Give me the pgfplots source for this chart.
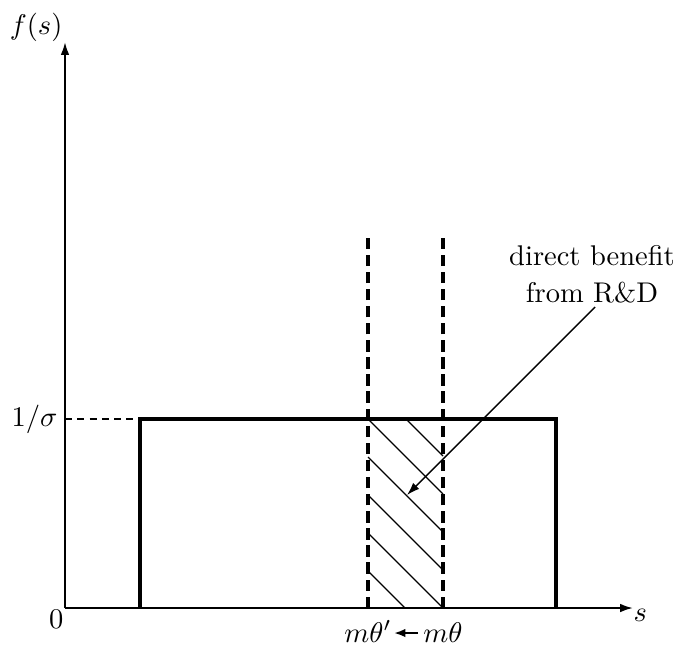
\documentclass[border=0pt]{standalone}
\usepackage{pgfplots}
\pgfplotsset{compat=1.18}
\usetikzlibrary{arrows.meta}

\begin{document}
\begin{tikzpicture}
\begin{axis}[
    axis lines=middle,
    x=0.3509pt, y=0.3509pt,
    xmin=0, xmax=568, ymin=0, ymax=566,
    xtick=\empty, ytick=\empty,
    enlargelimits=false,
    axis line style={line width=0.7pt, -{Latex[length=4.5pt,width=3pt]}},
    clip=false]
  % uniform density f(s)
  \addplot[black, line width=1.2pt] coordinates {(75,0) (75,189) (491,189) (491,0)};
  % level 1/sigma
  \addplot[black, line width=0.5pt, dash pattern=on 2.5pt off 1.8pt] coordinates {(0,189) (75,189)};
  % m theta' and m theta
  \addplot[black, line width=1.2pt, dash pattern=on 4pt off 2pt] coordinates {(303,0) (303,371)};
  \addplot[black, line width=1.2pt, dash pattern=on 4pt off 2pt] coordinates {(378,0) (378,371)};
  % hatching
  \addplot[black, line width=0.45pt] coordinates {(341,189) (378,152)};
  \addplot[black, line width=0.45pt] coordinates {(303,189) (378,114)};
  \addplot[black, line width=0.45pt] coordinates {(303,151) (378,76)};
  \addplot[black, line width=0.45pt] coordinates {(303,113) (378,38)};
  \addplot[black, line width=0.45pt] coordinates {(303,75) (378,0)};
  \addplot[black, line width=0.45pt] coordinates {(303,37) (340,0)};
  % pointer
  \addplot[black, line width=0.5pt, -{Latex[length=4.5pt,width=3pt]}] coordinates {(530,301) (342,113)};
  \addplot[black, line width=0.7pt, -{Latex[length=4pt,width=3pt]}] coordinates {(353,-25) (329,-25)};

  \node[anchor=base, inner sep=0pt] at (axis cs:527,343) {direct benefit};
  \node[anchor=base, inner sep=0pt] at (axis cs:527,306) {from R\&D};
  \node[anchor=south east, inner sep=0pt] at (axis cs:-2,566) {$f(s)$};
  \node[anchor=north west, inner sep=0pt] at (axis cs:568,-1) {$s$};
  \node[anchor=north east, inner sep=0pt] at (axis cs:-1,-2) {$0$};
  \node[anchor=east, inner sep=0pt] at (axis cs:-7,189) {$1/\sigma$};
  \node[anchor=base, inner sep=0pt] at (axis cs:303,-34) {$m\theta'$};
  \node[anchor=base, inner sep=0pt] at (axis cs:378,-34) {$m\theta$};

  \coordinate (bl) at (axis cs:-65,-46);
  \coordinate (tr) at (axis cs:618,608);
\end{axis}
\pgfresetboundingbox
\path[use as bounding box] (bl) rectangle (tr);
\end{tikzpicture}
\end{document}
